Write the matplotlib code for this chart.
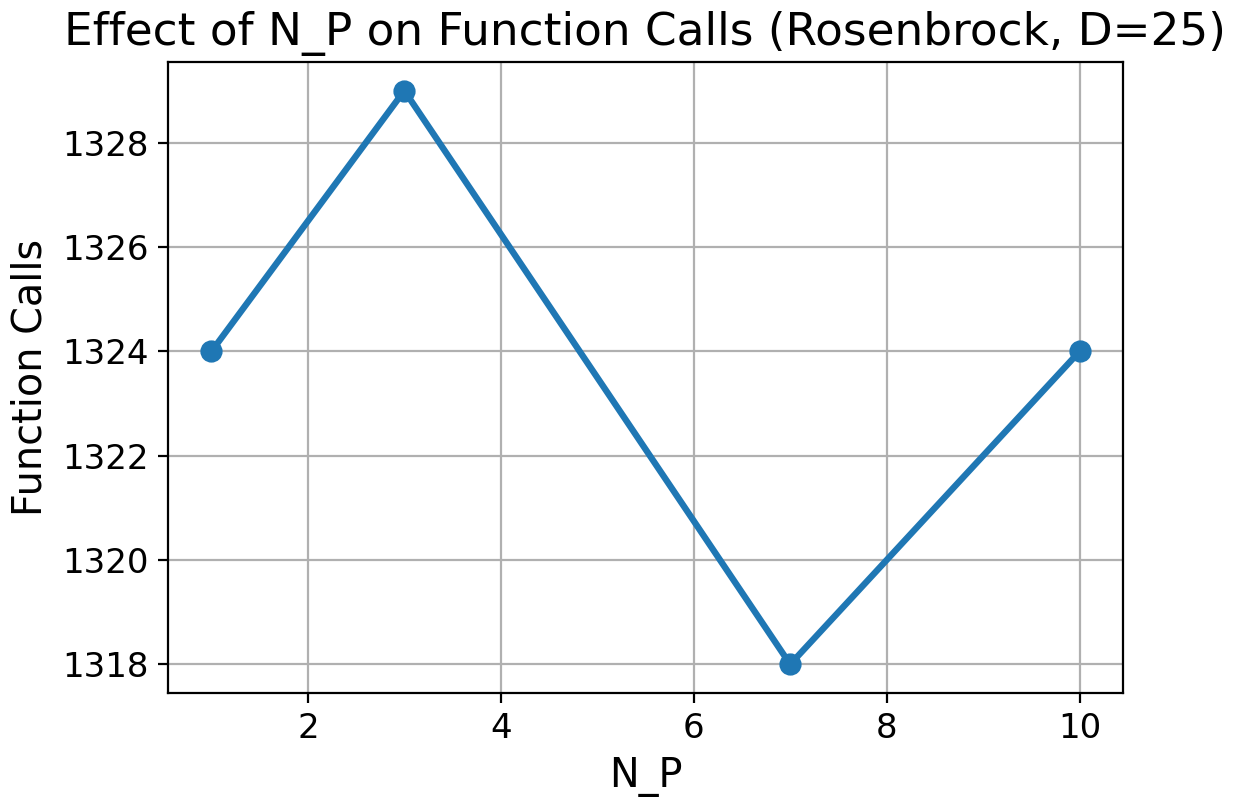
import matplotlib
matplotlib.use("Agg")
import matplotlib.pyplot as plt

# Datos
n_p = [1, 3, 7, 10]
function_calls = [1324, 1329, 1318, 1324]

fig = plt.figure(figsize=(6.17, 4.035), dpi=200)
ax = fig.add_axes([168 / 1234, 1 - 693 / 807, (1123 - 168) / 1234, (693 - 62) / 807])

ax.plot(n_p, function_calls, marker='o', linewidth=2.3, markersize=7, color='#1f77b4')
ax.set_title("Effect of N_P on Function Calls (Rosenbrock, D=25)", fontsize=16.35)
ax.set_xlabel("N_P", fontsize=14.3)
ax.set_ylabel("Function Calls", fontsize=14.3)
ax.tick_params(labelsize=12.25)
ax.grid(True)

fig.savefig("out.png", dpi=200)
